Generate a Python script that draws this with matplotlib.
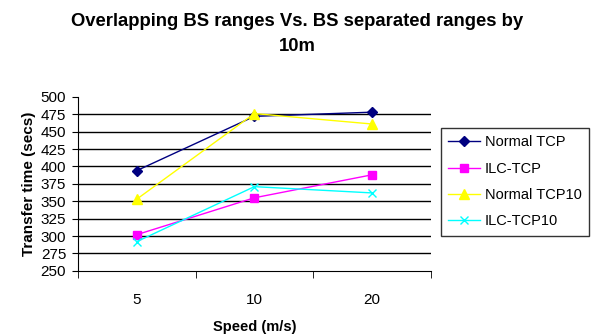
import matplotlib.pyplot as plt
import numpy as np

plt.rcParams["font.family"] = ["Liberation Sans", "DejaVu Sans"]

speeds = ["5", "10", "20"]
normal_tcp = [394, 472, 478]
ilc_tcp = [302, 355, 388]
normal_tcp10 = [353, 476, 461]
ilc_tcp10 = [292, 371, 362]

series = [
    ("Normal TCP", normal_tcp, "#000080", "D", 5),
    ("ILC-TCP", ilc_tcp, "#FF00FF", "s", 6),
    ("Normal TCP10", normal_tcp10, "#FFFF00", "^", 7),
    ("ILC-TCP10", ilc_tcp10, "#00FFFF", "x", 6),
]

fig = plt.figure(figsize=(5.95, 3.34), dpi=100)
ax = fig.add_axes([0.131, 0.189, 0.593, 0.521])

x = np.arange(len(speeds))
for name, vals, color, marker, ms in series:
    ax.plot(x, vals, color=color, marker=marker, markersize=ms, linewidth=1,
            markeredgecolor=color, label=name)

ax.set_ylim(250, 500)
ax.set_yticks(np.arange(250, 501, 25))
ax.set_xlim(-0.5, len(speeds) - 0.5)
# horizontal gridlines (none on top at 500)
for yv in np.arange(275, 500, 25):
    ax.axhline(yv, color="black", linewidth=1, zorder=0)

ax.set_xticks(x)
ax.set_xticklabels(speeds)
ax.set_xticks(np.arange(-0.5, len(speeds)), minor=True)
ax.tick_params(axis="x", which="major", length=0, pad=16, labelsize=11)
ax.tick_params(axis="x", which="minor", length=5, direction="out")
ax.tick_params(axis="y", length=4.5, labelsize=11, pad=4)

for s in ["top", "right"]:
    ax.spines[s].set_visible(False)

ax.set_ylabel("Transfer time (secs)", fontsize=11, fontweight="bold", labelpad=3)
ax.set_xlabel("Speed (m/s)", fontsize=10.5, fontweight="bold", labelpad=9)

fig.suptitle("Overlapping BS ranges Vs. BS separated ranges by\n10m",
             fontsize=13.3, fontweight="bold", x=0.5, y=0.96, linespacing=1.6)

leg = fig.legend(loc="upper left", bbox_to_anchor=(0.741, 0.617), fontsize=10.5,
                 frameon=True, fancybox=False, edgecolor="black",
                 handlelength=2.2, borderpad=0.5, labelspacing=0.85,
                 handletextpad=0.3, borderaxespad=0)
leg.get_frame().set_linewidth(1)

fig.savefig("out.png", dpi=100)
